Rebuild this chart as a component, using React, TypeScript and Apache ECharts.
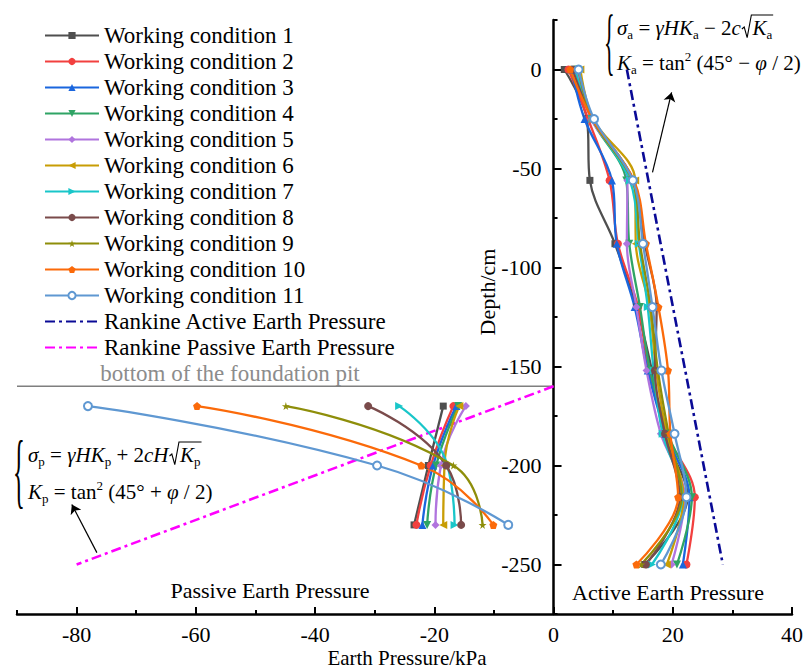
import React, { useEffect, useRef } from 'react';
import * as echarts from 'echarts';

const FONT = '"Liberation Serif", "Times New Roman", serif';

// Depths (cm) of the measuring points
const activeDepths = [0, -25, -56, -88, -120, -152, -184, -216, -250];
const passiveDepths = [-170, -200, -230];

const conditionNames = [
  'Working condition 1',
  'Working condition 2',
  'Working condition 3',
  'Working condition 4',
  'Working condition 5',
  'Working condition 6',
  'Working condition 7',
  'Working condition 8',
  'Working condition 9',
  'Working condition 10',
  'Working condition 11',
];

// Active earth pressure (kPa) at activeDepths
const activeWC1 = [1.8, 5.6, 6.1, 10.3, 13.9, 16.5, 18.5, 22.5, 15.3];
const activeWC2 = [2.5, 5.8, 9.4, 10.8, 14.2, 16.0, 19.0, 23.7, 22.3];
const activeWC3 = [3.0, 5.2, 9.8, 10.6, 13.6, 15.8, 18.8, 22.8, 21.7];
const activeWC4 = [4.0, 6.4, 12.2, 12.7, 14.5, 16.2, 19.2, 23.2, 20.7];
const activeWC5 = [3.8, 6.3, 12.4, 12.3, 13.9, 15.6, 18.0, 22.0, 19.8];
const activeWC6 = [4.5, 6.6, 13.7, 13.8, 16.1, 17.2, 19.0, 21.8, 19.0];
const activeWC7 = [3.6, 6.5, 12.8, 14.3, 15.8, 16.8, 18.3, 21.6, 16.5];
const activeWC8 = [3.2, 6.6, 13.4, 15.3, 17.3, 17.0, 18.7, 21.2, 15.5];
const activeWC9 = [4.2, 6.5, 13.2, 14.5, 16.3, 17.5, 19.3, 21.5, 14.7];
const activeWC10 = [2.8, 6.5, 13.5, 15.5, 17.6, 19.2, 19.6, 20.9, 13.9];
const activeWC11 = [4.2, 6.8, 13.3, 15.0, 16.6, 18.1, 20.3, 22.3, 18.0];

// Passive earth pressure (kPa) at passiveDepths
const passiveWC1 = [-18.5, -21.0, -23.4];
const passiveWC2 = [-16.8, -20.6, -23.0];
const passiveWC3 = [-16.3, -20.2, -22.0];
const passiveWC4 = [-16.0, -19.7, -21.2];
const passiveWC5 = [-14.7, -18.9, -19.8];
const passiveWC6 = [-15.8, -18.3, -18.5];
const passiveWC7 = [-25.9, -17.8, -16.6];
const passiveWC8 = [-31.1, -18.0, -15.5];
const passiveWC9 = [-44.9, -16.8, -11.9];
const passiveWC10 = [-59.8, -22.2, -10.1];
const passiveWC11 = [-78.1, -29.6, -7.6];

// Rankine theoretical lines
const rankineActiveX = [12.3, 28.4];
const rankineActiveDepth = [0, -250];
const rankinePassiveX = [0, -80];
const rankinePassiveDepth = [-160, -250];

// Bottom of the foundation pit
const pitDepth = -160;
const pitX = [-90, 0];

// Annotation arrows (tail -> head), in data units
const activeArrow = [[16.6, -52], [19.8, -11.6]];
const passiveArrow = [[-76.6, -244], [-80.8, -219.7]];

// Axis ranges and ticks
const xMin = -90;
const xMax = 40;
const yMin = -275;
const yMax = 25;
const xMajorTicks = [-80, -60, -40, -20, 0, 20, 40];
const xMinorTicks = [-90, -70, -50, -30, -10, 10, 30];
const yMajorTicks = [0, -50, -100, -150, -200, -250];
const yMinorTicks = [25, -25, -75, -125, -175, -225, -275];

const conditionColors = [
  '#4F4F4F', '#F2403F', '#1A66DE', '#2FA465', '#B074DE', '#C89D05',
  '#19C6C9', '#7A4B4B', '#8E8E0A', '#FB6A0A', '#5F98D2',
];

const TRI_DOWN = 'path://M0,0 L100,0 L50,90 Z';
const TRI_LEFT = 'path://M0,50 L90,0 L90,100 Z';
const TRI_RIGHT = 'path://M90,50 L0,0 L0,100 Z';
const STAR = 'path://M50,0 L61,35 L98,35 L68,57 L79,91 L50,70 L21,91 L32,57 L2,35 L39,35 Z';
const PENTAGON = 'path://M50,0 L98,35 L79,91 L21,91 L2,35 Z';

const conditionSymbols = [
  'rect', 'circle', 'triangle', TRI_DOWN, 'diamond', TRI_LEFT,
  TRI_RIGHT, 'circle', STAR, PENTAGON, 'emptyCircle',
];

type Piece = [string, 'r' | 'i' | 'sub' | 'sup' | 'rad'];

const activeLine1: Piece[] = [['σ', 'i'], ['a', 'sub'], [' = ', 'r'], ['γHK', 'i'], ['a', 'sub'], [' − 2', 'r'], ['c', 'i'], ['', 'rad'], ['K', 'i'], ['a', 'sub']];
const activeLine2: Piece[] = [['K', 'i'], ['a', 'sub'], [' = tan', 'r'], ['2', 'sup'], [' (45° − ', 'r'], ['φ', 'i'], [' / 2)', 'r']];
const passiveLine1: Piece[] = [['σ', 'i'], ['p', 'sub'], [' = ', 'r'], ['γHK', 'i'], ['p', 'sub'], [' + 2', 'r'], ['cH', 'i'], ['', 'rad'], ['K', 'i'], ['p', 'sub']];
const passiveLine2: Piece[] = [['K', 'i'], ['p', 'sub'], [' = tan', 'r'], ['2', 'sup'], [' (45° + ', 'r'], ['φ', 'i'], [' / 2)', 'r']];

let measureCtx: CanvasRenderingContext2D | null = null;
function textWidth(t: string, font: string): number {
  if (!measureCtx) measureCtx = document.createElement('canvas').getContext('2d');
  if (!measureCtx) return t.length * 10;
  measureCtx.font = font;
  return measureCtx.measureText(t).width;
}

function formulaLine(pieces: Piece[], x0: number, cy: number, size: number) {
  const subSize = Math.round(size * 0.6);
  const els: any[] = [];
  let x = x0;
  let radStart: number | null = null;
  for (const [t, k] of pieces) {
    if (k === 'rad') {
      radStart = x;
      x += size * 0.55;
      continue;
    }
    const fs = k === 'sub' || k === 'sup' ? subSize : size;
    const italic = k === 'i';
    const w = textWidth(t, `${italic ? 'italic ' : ''}${fs}px ${FONT}`);
    const y = k === 'sub' ? cy + size * 0.3 : k === 'sup' ? cy - size * 0.33 : cy;
    els.push({
      type: 'text',
      x,
      y,
      silent: true,
      style: {
        text: t,
        fontSize: fs,
        fontFamily: FONT,
        fontStyle: italic ? 'italic' : 'normal',
        fill: '#000',
        align: 'left',
        verticalAlign: 'middle',
      },
    });
    x += w;
  }
  if (radStart !== null) {
    const top = cy - size * 0.62;
    els.push({
      type: 'polyline',
      silent: true,
      shape: {
        points: [
          [radStart + 1, cy + 1],
          [radStart + size * 0.16, cy - 1],
          [radStart + size * 0.3, cy + size * 0.46],
          [radStart + size * 0.5, top],
          [x + 1, top],
        ],
      },
      style: { stroke: '#000', fill: 'none', lineWidth: 1.1 },
    });
  }
  return els;
}

function brace(x: number, cy: number, size: number) {
  return {
    type: 'text',
    x,
    y: cy,
    scaleX: 0.3,
    silent: true,
    style: {
      text: '{',
      fontSize: size,
      fontFamily: FONT,
      fill: '#000',
      align: 'left',
      verticalAlign: 'middle',
    },
  };
}

function label(text: string, x: number, y: number, opts: any = {}) {
  return {
    type: 'text',
    x,
    y,
    silent: true,
    rotation: opts.rotation || 0,
    style: {
      text,
      fontSize: opts.fontSize || 22,
      fontFamily: FONT,
      fill: opts.color || '#000',
      align: 'center',
      verticalAlign: 'middle',
    },
  };
}

const GRID = { left: 17, right: 13, top: 20, bottom: 56 };
const WIDTH = 805;
const HEIGHT = 670;

export default function App() {
  const ref = useRef<HTMLDivElement>(null);

  useEffect(() => {
    if (!ref.current) return;
    const chart = echarts.init(ref.current, undefined, { renderer: 'svg' });

    const activeValues = [activeWC1, activeWC2, activeWC3, activeWC4, activeWC5, activeWC6, activeWC7, activeWC8, activeWC9, activeWC10, activeWC11];
    const passiveValues = [passiveWC1, passiveWC2, passiveWC3, passiveWC4, passiveWC5, passiveWC6, passiveWC7, passiveWC8, passiveWC9, passiveWC10, passiveWC11];

    const series: any[] = [];

    series.push({
      name: 'pit',
      type: 'line',
      silent: true,
      symbol: 'none',
      data: pitX.map((x) => [x, pitDepth]),
      lineStyle: { color: '#7F7F7F', width: 1.5 },
      z: 1,
    });

    series.push({
      name: 'Rankine Active Earth Pressure',
      type: 'line',
      symbol: 'none',
      data: rankineActiveX.map((x, j) => [x, rankineActiveDepth[j]]),
      lineStyle: { color: '#0A0A96', width: 2.6, type: [10, 4, 3, 4] },
      itemStyle: { color: '#0A0A96' },
      z: 2,
    });
    series.push({
      name: 'Rankine Passive Earth Pressure',
      type: 'line',
      symbol: 'none',
      data: rankinePassiveX.map((x, j) => [x, rankinePassiveDepth[j]]),
      lineStyle: { color: '#FF00FF', width: 2.6, type: [10, 4, 3, 4] },
      itemStyle: { color: '#FF00FF' },
      z: 2,
    });

    conditionNames.forEach((name, i) => {
      const color = conditionColors[i];
      const base = {
        name,
        type: 'line',
        symbol: conditionSymbols[i],
        symbolSize: conditionSymbols[i] === 'rect' ? 7 : 8,
        showAllSymbol: true,
        lineStyle: { color, width: 2.3 },
        itemStyle: { color, borderColor: color, borderWidth: conditionSymbols[i] === 'emptyCircle' ? 1.6 : 0 },
        emphasis: { disabled: true },
        z: 3,
      };
      series.push({
        ...base,
        smooth: 0.35,
        data: activeDepths.map((d, j) => [activeValues[i][j], d]),
      });
      series.push({
        ...base,
        smooth: 0.5,
        data: passiveDepths.map((d, j) => [passiveValues[i][j], d]),
      });
    });

    series.push({
      type: 'lines',
      coordinateSystem: 'cartesian2d',
      silent: true,
      symbol: ['none', 'arrow'],
      symbolSize: [0, 9],
      lineStyle: { color: '#000', width: 1.2, opacity: 1, curveness: 0 },
      data: [{ coords: activeArrow }, { coords: passiveArrow }],
      z: 4,
    });

    const axisLineStyle = { color: '#000', width: 2.5 };
    const tickLineStyle = { color: '#000', width: 2 };
    const labelStyle = { fontSize: 22, fontFamily: FONT, color: '#000' };

    // The depth axis sits at zero pressure, inside the plot
    const gridWidth = WIDTH - GRID.left - GRID.right;
    const yAxisOffset = -gridWidth * (0 - xMin) / (xMax - xMin);

    const noSymbol = { itemStyle: { opacity: 0 } };

    const option: any = {
      animation: false,
      backgroundColor: '#fff',
      grid: { ...GRID, outerBoundsMode: 'none', containLabel: false },
      legend: {
        data: [
          ...conditionNames,
          { name: 'Rankine Active Earth Pressure', ...noSymbol },
          { name: 'Rankine Passive Earth Pressure', ...noSymbol },
        ],
        orient: 'vertical',
        left: 44,
        top: 24,
        padding: 0,
        itemWidth: 54,
        itemHeight: 9,
        itemGap: 3.0,
        selectedMode: false,
        textStyle: { fontSize: 23, fontFamily: FONT, color: '#000', lineHeight: 22 },
      },
      xAxis: [
        {
          type: 'value',
          min: xMin,
          max: xMax,
          position: 'bottom',
          axisLine: { onZero: false, lineStyle: axisLineStyle },
          axisTick: { inside: true, length: 7, lineStyle: tickLineStyle, customValues: xMajorTicks },
          axisLabel: { ...labelStyle, margin: 9, customValues: xMajorTicks },
          splitLine: { show: false },
        },
        {
          type: 'value',
          min: xMin,
          max: xMax,
          position: 'bottom',
          axisLine: { show: false, onZero: false },
          axisTick: { inside: true, length: 4, lineStyle: tickLineStyle, customValues: xMinorTicks },
          axisLabel: { show: false },
          splitLine: { show: false },
        },
      ],
      yAxis: [
        {
          type: 'value',
          min: yMin,
          max: yMax,
          position: 'left',
          offset: yAxisOffset,
          axisLine: { onZero: false, lineStyle: axisLineStyle },
          axisTick: { inside: true, length: 8, lineStyle: tickLineStyle, customValues: yMajorTicks },
          axisLabel: { ...labelStyle, margin: 12, customValues: yMajorTicks },
          splitLine: { show: false },
        },
        {
          type: 'value',
          min: yMin,
          max: yMax,
          position: 'left',
          offset: yAxisOffset,
          axisLine: { show: false, onZero: false },
          axisTick: { inside: true, length: 4, lineStyle: tickLineStyle, customValues: yMinorTicks },
          axisLabel: { show: false },
          splitLine: { show: false },
        },
      ],
      series,
      graphic: [
        brace(604, 41, 74),
        ...formulaLine(activeLine1, 617, 28, 21),
        ...formulaLine(activeLine2, 617, 63, 21),
        brace(13, 470, 82),
        ...formulaLine(passiveLine1, 28, 455, 21),
        ...formulaLine(passiveLine2, 28, 492, 21),
        label('bottom of the foundation pit', 230, 373, { color: '#8C8C8C', fontSize: 23 }),
        label('Passive Earth Pressure', 270, 590),
        label('Active Earth Pressure', 668, 592),
        label('Depth/cm', 487, 292, { rotation: Math.PI / 2 }),
        label('Earth Pressure/kPa', 407, 658, { fontSize: 21 }),
      ],
    };

    chart.setOption(option);
    return () => chart.dispose();
  }, []);

  return (
    <div
      ref={ref}
      style={{ position: 'fixed', left: 0, top: 0, width: WIDTH, height: HEIGHT, background: '#fff' }}
    />
  );
}
